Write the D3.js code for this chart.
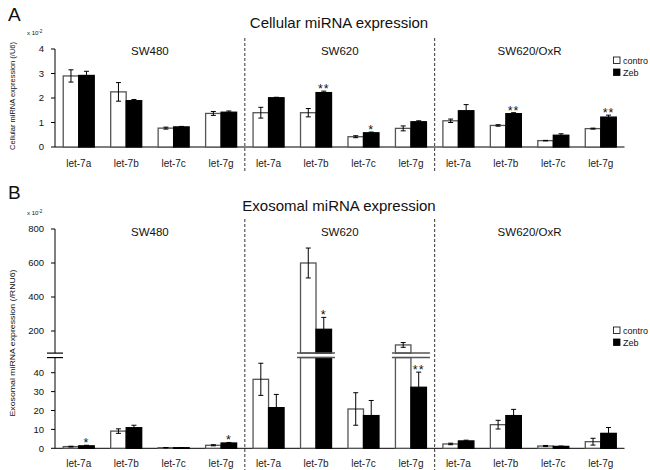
<html>
<head>
    <script src="https://d3js.org/d3.v7.min.js"></script>
</head>
<style>
    body { margin: 0; background: #fff; }
    text { font-family: "Liberation Sans", Arial, sans-serif; fill: #111; }
</style>
<body>
    <svg height="470" width="650" id="chart"></svg>
</body>
<script>

    // ---- data ----
    let groups = ["SW480", "SW620", "SW620/OxR"];
    let mirnas = ["let-7a", "let-7b", "let-7c", "let-7g"];
    let series = ["contro", "Zeb"];

    let cellTicks = [0, 1, 2, 3, 4];
    let cellCtrl    = [2.90, 2.25, 0.77, 1.37,  1.40, 1.40, 0.42, 0.76,  1.07, 0.88, 0.26, 0.75];
    let cellCtrlErr = [0.25, 0.38, 0.04, 0.08,  0.22, 0.17, 0.04, 0.10,  0.07, 0.03, 0.01, 0.02];
    let cellZeb     = [2.92, 1.89, 0.82, 1.42,  2.01, 2.22, 0.58, 1.03,  1.48, 1.36, 0.48, 1.22];
    let cellZebErr  = [0.17, 0.05, 0.02, 0.05,  0.02, 0.06, 0.03, 0.04,  0.25, 0.04, 0.06, 0.08];
    let cellSig     = ["", "", "", "",  "", "**", "*", "",  "", "**", "", "**"];

    let exoTicksLow  = [0, 10, 20, 30, 40];
    let exoTicksHigh = [200, 400, 600, 800];
    let exoCtrl    = [0.9, 9.1, 0.3, 1.6,  36.5, 600, 20.8, 118,  2.3, 12.5, 1.2, 3.5];
    let exoCtrlErr = [0.2, 1.2, 0.1, 0.3,  8.5, 88, 8.6, 14,  0.4, 2.3, 0.3, 1.8];
    let exoZeb     = [1.3, 10.9, 0.3, 2.8,  21.5, 210, 17.3, 32.3,  3.9, 17.3, 1.0, 7.9];
    let exoZebErr  = [0.3, 1.3, 0.1, 0.3,  7, 70, 8, 8,  0.4, 3.3, 0.2, 3.1];
    let exoSig     = ["*", "", "", "*",  "", "*", "", "**",  "", "", "", ""];

    let plt = d3.select('svg#chart');

    let keys = [];
    groups.forEach(g => mirnas.forEach(m => keys.push(g + "|" + m)));

    let x_scale = d3.scaleBand()
                    .domain(keys)
                    .range([55, 624.5]);

    let bw = 15.5;

    // ---------------- panel A ----------------
    let yA = d3.scaleLinear().domain([0, 4]).range([147, 49]);

    // ---------------- panel B (broken axis) ----------------
    let lowTop = 48, highBottom = 70;
    let yLow = d3.scaleLinear().domain([0, 40]).range([448.3, 372.7]);
    let yHigh = d3.scaleLinear().domain([200, 800]).range([331, 229]);
    let yB = v => v <= lowTop ? yLow(v) : yHigh(Math.max(v, highBottom));

    function drawPanel(cfg) {
        let g = plt.append('g');

        // panel letter + title
        g.append('text').attr('x', 8).attr('y', cfg.letterY)
            .style('font-size', '19px').text(cfg.letter);
        g.append('text').attr('x', 339).attr('y', cfg.titleY)
            .attr('text-anchor', 'middle').style('font-size', '15px').text(cfg.title);

        // group labels
        groups.forEach((grp, i) => {
            let cx = x_scale(grp + "|let-7b") + x_scale.bandwidth();
            g.append('text').attr('x', cx).attr('y', cfg.groupY)
                .attr('text-anchor', 'middle').style('font-size', '11.5px').text(grp);
        });

        // dashed separators
        [1, 2].forEach(i => {
            let sx = x_scale(groups[i] + "|let-7a");
            g.append('line').attr('x1', sx).attr('x2', sx)
                .attr('y1', cfg.sepTop).attr('y2', cfg.sepBottom)
                .attr('stroke', '#333').attr('stroke-width', 1)
                .attr('stroke-dasharray', '3,2');
        });

        // axes
        let base = cfg.y(0);
        g.append('line').attr('x1', 55).attr('x2', 624.5)
            .attr('y1', base).attr('y2', base).attr('stroke', '#000');

        cfg.axisSegments.forEach(s => {
            g.append('line').attr('x1', 55).attr('x2', 55)
                .attr('y1', s[0]).attr('y2', s[1]).attr('stroke', '#000');
        });
        cfg.ticks.forEach(t => {
            let ty = cfg.y(t);
            g.append('line').attr('x1', 51).attr('x2', 55)
                .attr('y1', ty).attr('y2', ty).attr('stroke', '#000');
            g.append('text').attr('x', 44).attr('y', ty + 3.3)
                .attr('text-anchor', 'end').style('font-size', '9.5px').text(t);
        });

        // x 10^-2
        let mult = g.append('text').attr('x', 27).attr('y', cfg.multY).style('font-size', '6px');
        mult.append('tspan').text('x 10');
        mult.append('tspan').attr('dy', -2.5).style('font-size', '4.5px').text('-2');

        // y label
        g.append('text')
            .attr('transform', `translate(15,${cfg.labelY}) rotate(-90)`)
            .attr('text-anchor', 'middle').style('font-size', '8px')
            .attr('textLength', cfg.labelLen).attr('lengthAdjust', 'spacingAndGlyphs')
            .text(cfg.ylabel);

        // x tick labels
        keys.forEach(k => {
            g.append('text').attr('x', x_scale(k) + x_scale.bandwidth() / 2)
                .attr('y', cfg.tickY).attr('text-anchor', 'middle')
                .style('font-size', '10px').style('fill', '#222')
                .text(k.split("|")[1]);
        });

        // bars
        let rows = keys.map((k, i) => ({
            key: k,
            vals: [cfg.ctrl[i], cfg.zeb[i]],
            errs: [cfg.ctrlErr[i], cfg.zebErr[i]],
            sig: cfg.sig[i]
        }));

        let chart_area = g.append('g');

        rows.forEach(d => {
            let cx = x_scale(d.key) + x_scale.bandwidth() / 2;
            let crosses = false;
            d.vals.forEach((v, j) => {
                let bx = cx - bw + j * bw;
                let fill = j == 0 ? '#fff' : '#000';
                let stroke = j == 0 ? '#555' : '#000';
                if (cfg.broken && v > lowTop) {
                    crosses = true;
                    chart_area.append('rect').attr('class', 'bar')
                        .attr('x', bx).attr('width', bw)
                        .attr('y', yLow(lowTop)).attr('height', base - yLow(lowTop))
                        .attr('fill', fill).attr('stroke', stroke).attr('stroke-width', 1.3);
                    chart_area.append('rect').attr('class', 'bar')
                        .attr('x', bx).attr('width', bw)
                        .attr('y', yHigh(v)).attr('height', yHigh(highBottom) - yHigh(v))
                        .attr('fill', fill).attr('stroke', stroke).attr('stroke-width', 1.3);
                } else {
                    chart_area.append('rect').attr('class', 'bar')
                        .attr('x', bx).attr('width', bw)
                        .attr('y', cfg.y(v)).attr('height', base - cfg.y(v))
                        .attr('fill', fill).attr('stroke', stroke).attr('stroke-width', 1.3);
                }
            });

            // error bars
            d.vals.forEach((v, j) => {
                let ex = cx - bw / 2 + j * bw;
                let top = cfg.y(v + d.errs[j]);
                let bot = cfg.y(Math.max(v - d.errs[j], 0));
                chart_area.append('line').attr('x1', ex).attr('x2', ex)
                    .attr('y1', top).attr('y2', bot).attr('stroke', '#000').attr('stroke-width', 1);
                [top, bot].forEach(yy => {
                    chart_area.append('line').attr('x1', ex - 2.5).attr('x2', ex + 2.5)
                        .attr('y1', yy).attr('y2', yy).attr('stroke', '#000').attr('stroke-width', 1);
                });
            });

            if (crosses) {
                [yHigh(highBottom), yLow(lowTop)].forEach(yy => {
                    chart_area.append('line').attr('x1', cx - bw - 3.5).attr('x2', cx + bw + 3.5)
                        .attr('y1', yy).attr('y2', yy).attr('stroke', '#555').attr('stroke-width', 1.5);
                });
            }

            if (d.sig) {
                let top = cfg.y(d.vals[1] + d.errs[1]);
                chart_area.append('text').attr('x', cx + bw / 2).attr('y', top + 2)
                    .attr('text-anchor', 'middle').style('font-size', '12.5px')
                    .style('letter-spacing', '1px')
                    .text(d.sig);
            }
        });

        // legend
        series.forEach((s, j) => {
            let ly = cfg.legendY + j * 12;
            g.append('rect').attr('x', 613.5).attr('y', ly).attr('width', 6.5).attr('height', 6.5)
                .attr('fill', j == 0 ? '#fff' : '#000').attr('stroke', '#000').attr('stroke-width', 0.8);
            g.append('text').attr('x', 623).attr('y', ly + 6.5)
                .style('font-size', '9px').text(s);
        });

        // axis break marks
        if (cfg.broken) {
            [yHigh(highBottom), yLow(lowTop)].forEach(yy => {
                g.append('line').attr('x1', 47).attr('x2', 63)
                    .attr('y1', yy).attr('y2', yy).attr('stroke', '#000').attr('stroke-width', 1.2);
            });
        }
    }

    drawPanel({
        letter: "A", letterY: 21, title: "Cellular miRNA expression", titleY: 27.5,
        groupY: 55, sepTop: 38, sepBottom: 172,
        y: yA, ticks: cellTicks, axisSegments: [[yA(4), yA(0)]],
        multY: 35, ylabel: "Cellular miRNA expression (/U6)", labelY: 96, labelLen: 108,
        tickY: 166.5,
        ctrl: cellCtrl, ctrlErr: cellCtrlErr, zeb: cellZeb, zebErr: cellZebErr, sig: cellSig,
        legendY: 57, broken: false
    });

    drawPanel({
        letter: "B", letterY: 199, title: "Exosomal miRNA expression", titleY: 210.5,
        groupY: 235.5, sepTop: 219, sepBottom: 470,
        y: yB, ticks: exoTicksHigh.concat(exoTicksLow),
        axisSegments: [[yHigh(800), yHigh(highBottom)], [yLow(lowTop), yLow(0)]],
        multY: 215, ylabel: "Exosomal miRNA expression (/RNU6)", labelY: 343, labelLen: 147,
        tickY: 466.5,
        ctrl: exoCtrl, ctrlErr: exoCtrlErr, zeb: exoZeb, zebErr: exoZebErr, sig: exoSig,
        legendY: 327, broken: true
    });

</script>
</html>
